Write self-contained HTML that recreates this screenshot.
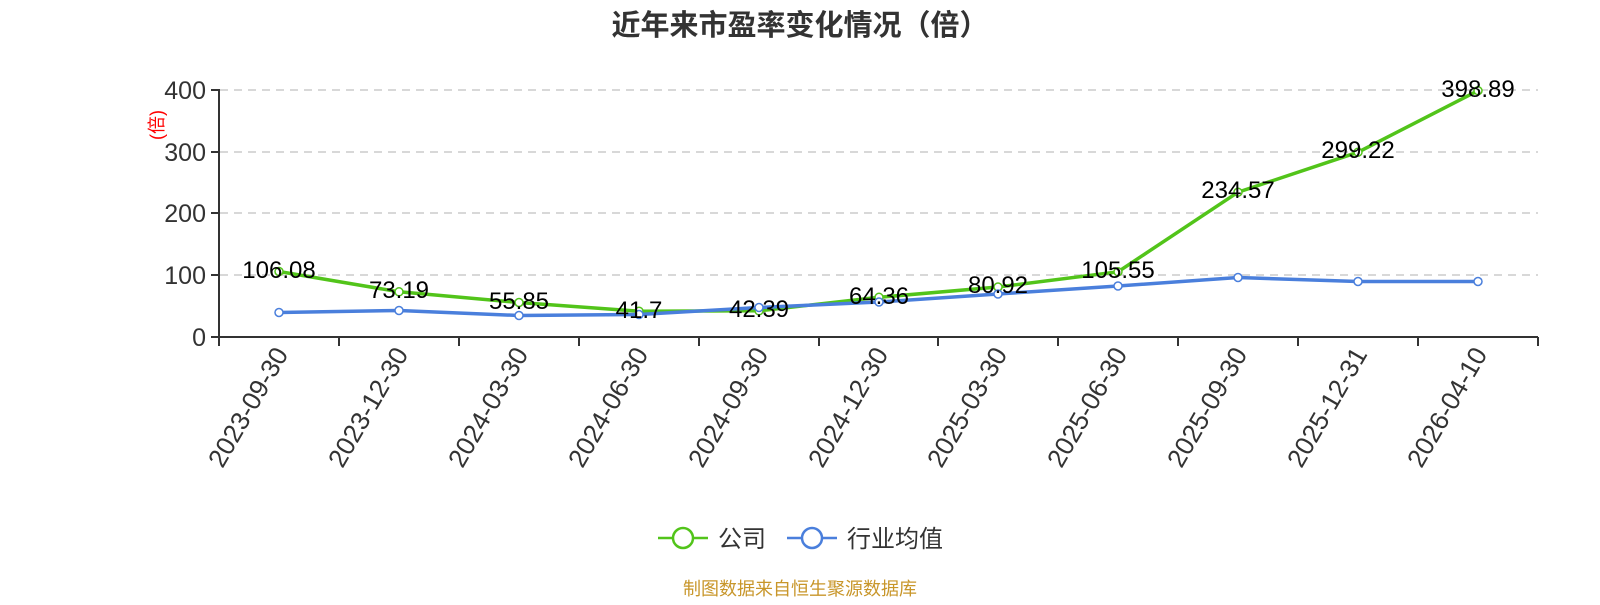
<!DOCTYPE html>
<html><head><meta charset="utf-8"><style>
body{margin:0;background:#fff;width:1600px;height:600px;overflow:hidden}
text{font-family:"Liberation Sans","Noto Sans CJK SC",sans-serif}
</style></head><body>
<svg width="1600" height="600" xmlns="http://www.w3.org/2000/svg">
<text x="800" y="35" text-anchor="middle" font-size="29" font-weight="bold" fill="#333">近年来市盈率变化情况（倍）</text>
<g stroke="#ccc" stroke-dasharray="8,6" stroke-width="1.5">
<line x1="220" x2="1538" y1="90" y2="90"/><line x1="220" x2="1538" y1="152" y2="152"/><line x1="220" x2="1538" y1="213" y2="213"/><line x1="220" x2="1538" y1="275" y2="275"/>
</g>
<g stroke="#333" stroke-width="2">
<line x1="219" y1="89" x2="219" y2="337"/><line x1="218" y1="337" x2="1538" y2="337"/>
<line x1="211" x2="219" y1="90" y2="90"/><line x1="211" x2="219" y1="152" y2="152"/><line x1="211" x2="219" y1="213" y2="213"/><line x1="211" x2="219" y1="275" y2="275"/><line x1="211" x2="219" y1="337" y2="337"/>
<line x1="219" x2="219" y1="337" y2="346"/><line x1="339" x2="339" y1="337" y2="346"/><line x1="459" x2="459" y1="337" y2="346"/><line x1="579" x2="579" y1="337" y2="346"/><line x1="699" x2="699" y1="337" y2="346"/><line x1="819" x2="819" y1="337" y2="346"/><line x1="938" x2="938" y1="337" y2="346"/><line x1="1058" x2="1058" y1="337" y2="346"/><line x1="1178" x2="1178" y1="337" y2="346"/><line x1="1298" x2="1298" y1="337" y2="346"/><line x1="1418" x2="1418" y1="337" y2="346"/><line x1="1538" x2="1538" y1="337" y2="346"/>
</g>
<g font-size="25" fill="#333" text-anchor="end">
<text x="206" y="99">400</text><text x="206" y="161">300</text><text x="206" y="222">200</text><text x="206" y="284">100</text><text x="206" y="346">0</text>
</g>
<text x="0" y="0" font-size="18" fill="red" transform="translate(163,125) rotate(-90)" text-anchor="middle">(倍)</text>
<g font-size="26" fill="#333" text-anchor="end">
<text transform="translate(289,354) rotate(-60)">2023-09-30</text>
<text transform="translate(409,354) rotate(-60)">2023-12-30</text>
<text transform="translate(529,354) rotate(-60)">2024-03-30</text>
<text transform="translate(649,354) rotate(-60)">2024-06-30</text>
<text transform="translate(769,354) rotate(-60)">2024-09-30</text>
<text transform="translate(889,354) rotate(-60)">2024-12-30</text>
<text transform="translate(1008,354) rotate(-60)">2025-03-30</text>
<text transform="translate(1128,354) rotate(-60)">2025-06-30</text>
<text transform="translate(1248,354) rotate(-60)">2025-09-30</text>
<text transform="translate(1368,354) rotate(-60)">2025-12-31</text>
<text transform="translate(1488,354) rotate(-60)">2026-04-10</text>
</g>
<polyline fill="none" stroke="#52c41a" stroke-width="3.5" points="279,271.5 399,291.8 519,302.5 639,311.2 759,310.8 879,297.3 998,287 1118,271.8 1238,192.2 1358,152.2 1478,90.7"/>
<polyline fill="none" stroke="#4a7fdc" stroke-width="3.5" points="279,312.5 399,310.5 519,315.5 639,314.5 759,307.5 879,302 998,294 1118,286 1238,277.5 1358,281.5 1478,281.5"/>
<g fill="#fff" stroke="#52c41a" stroke-width="1.5">
<circle cx="279" cy="271.5" r="4"/><circle cx="399" cy="291.8" r="4"/><circle cx="519" cy="302.5" r="4"/><circle cx="639" cy="311.2" r="4"/><circle cx="759" cy="310.8" r="4"/><circle cx="879" cy="297.3" r="4"/><circle cx="998" cy="287" r="4"/><circle cx="1118" cy="271.8" r="4"/><circle cx="1238" cy="192.2" r="4"/><circle cx="1358" cy="152.2" r="4"/><circle cx="1478" cy="90.7" r="4"/>
</g>
<g fill="#fff" stroke="#4a7fdc" stroke-width="1.5">
<circle cx="279" cy="312.5" r="4"/><circle cx="399" cy="310.5" r="4"/><circle cx="519" cy="315.5" r="4"/><circle cx="639" cy="314.5" r="4"/><circle cx="759" cy="307.5" r="4"/><circle cx="879" cy="302" r="4"/><circle cx="998" cy="294" r="4"/><circle cx="1118" cy="286" r="4"/><circle cx="1238" cy="277.5" r="4"/><circle cx="1358" cy="281.5" r="4"/><circle cx="1478" cy="281.5" r="4"/>
</g>
<g font-size="24" fill="#000" text-anchor="middle">
<text x="279" y="278">106.08</text><text x="399" y="298">73.19</text><text x="519" y="309">55.85</text><text x="639" y="318">41.7</text><text x="759" y="317">42.39</text><text x="879" y="304">64.36</text><text x="998" y="293">80.92</text><text x="1118" y="278">105.55</text><text x="1238" y="198">234.57</text><text x="1358" y="158">299.22</text><text x="1478" y="97">398.89</text>
</g>
<line x1="658" x2="708" y1="538" y2="538" stroke="#52c41a" stroke-width="2.5"/>
<circle cx="683" cy="538" r="10" fill="#fff" stroke="#52c41a" stroke-width="2.5"/>
<text x="718" y="547" font-size="24" fill="#333">公司</text>
<line x1="787" x2="837" y1="538" y2="538" stroke="#4a7fdc" stroke-width="2.5"/>
<circle cx="812" cy="538" r="10" fill="#fff" stroke="#4a7fdc" stroke-width="2.5"/>
<text x="847" y="547" font-size="24" fill="#333">行业均值</text>
<text x="800" y="595" font-size="18" fill="#c8962a" text-anchor="middle">制图数据来自恒生聚源数据库</text>
</svg>
</body></html>
